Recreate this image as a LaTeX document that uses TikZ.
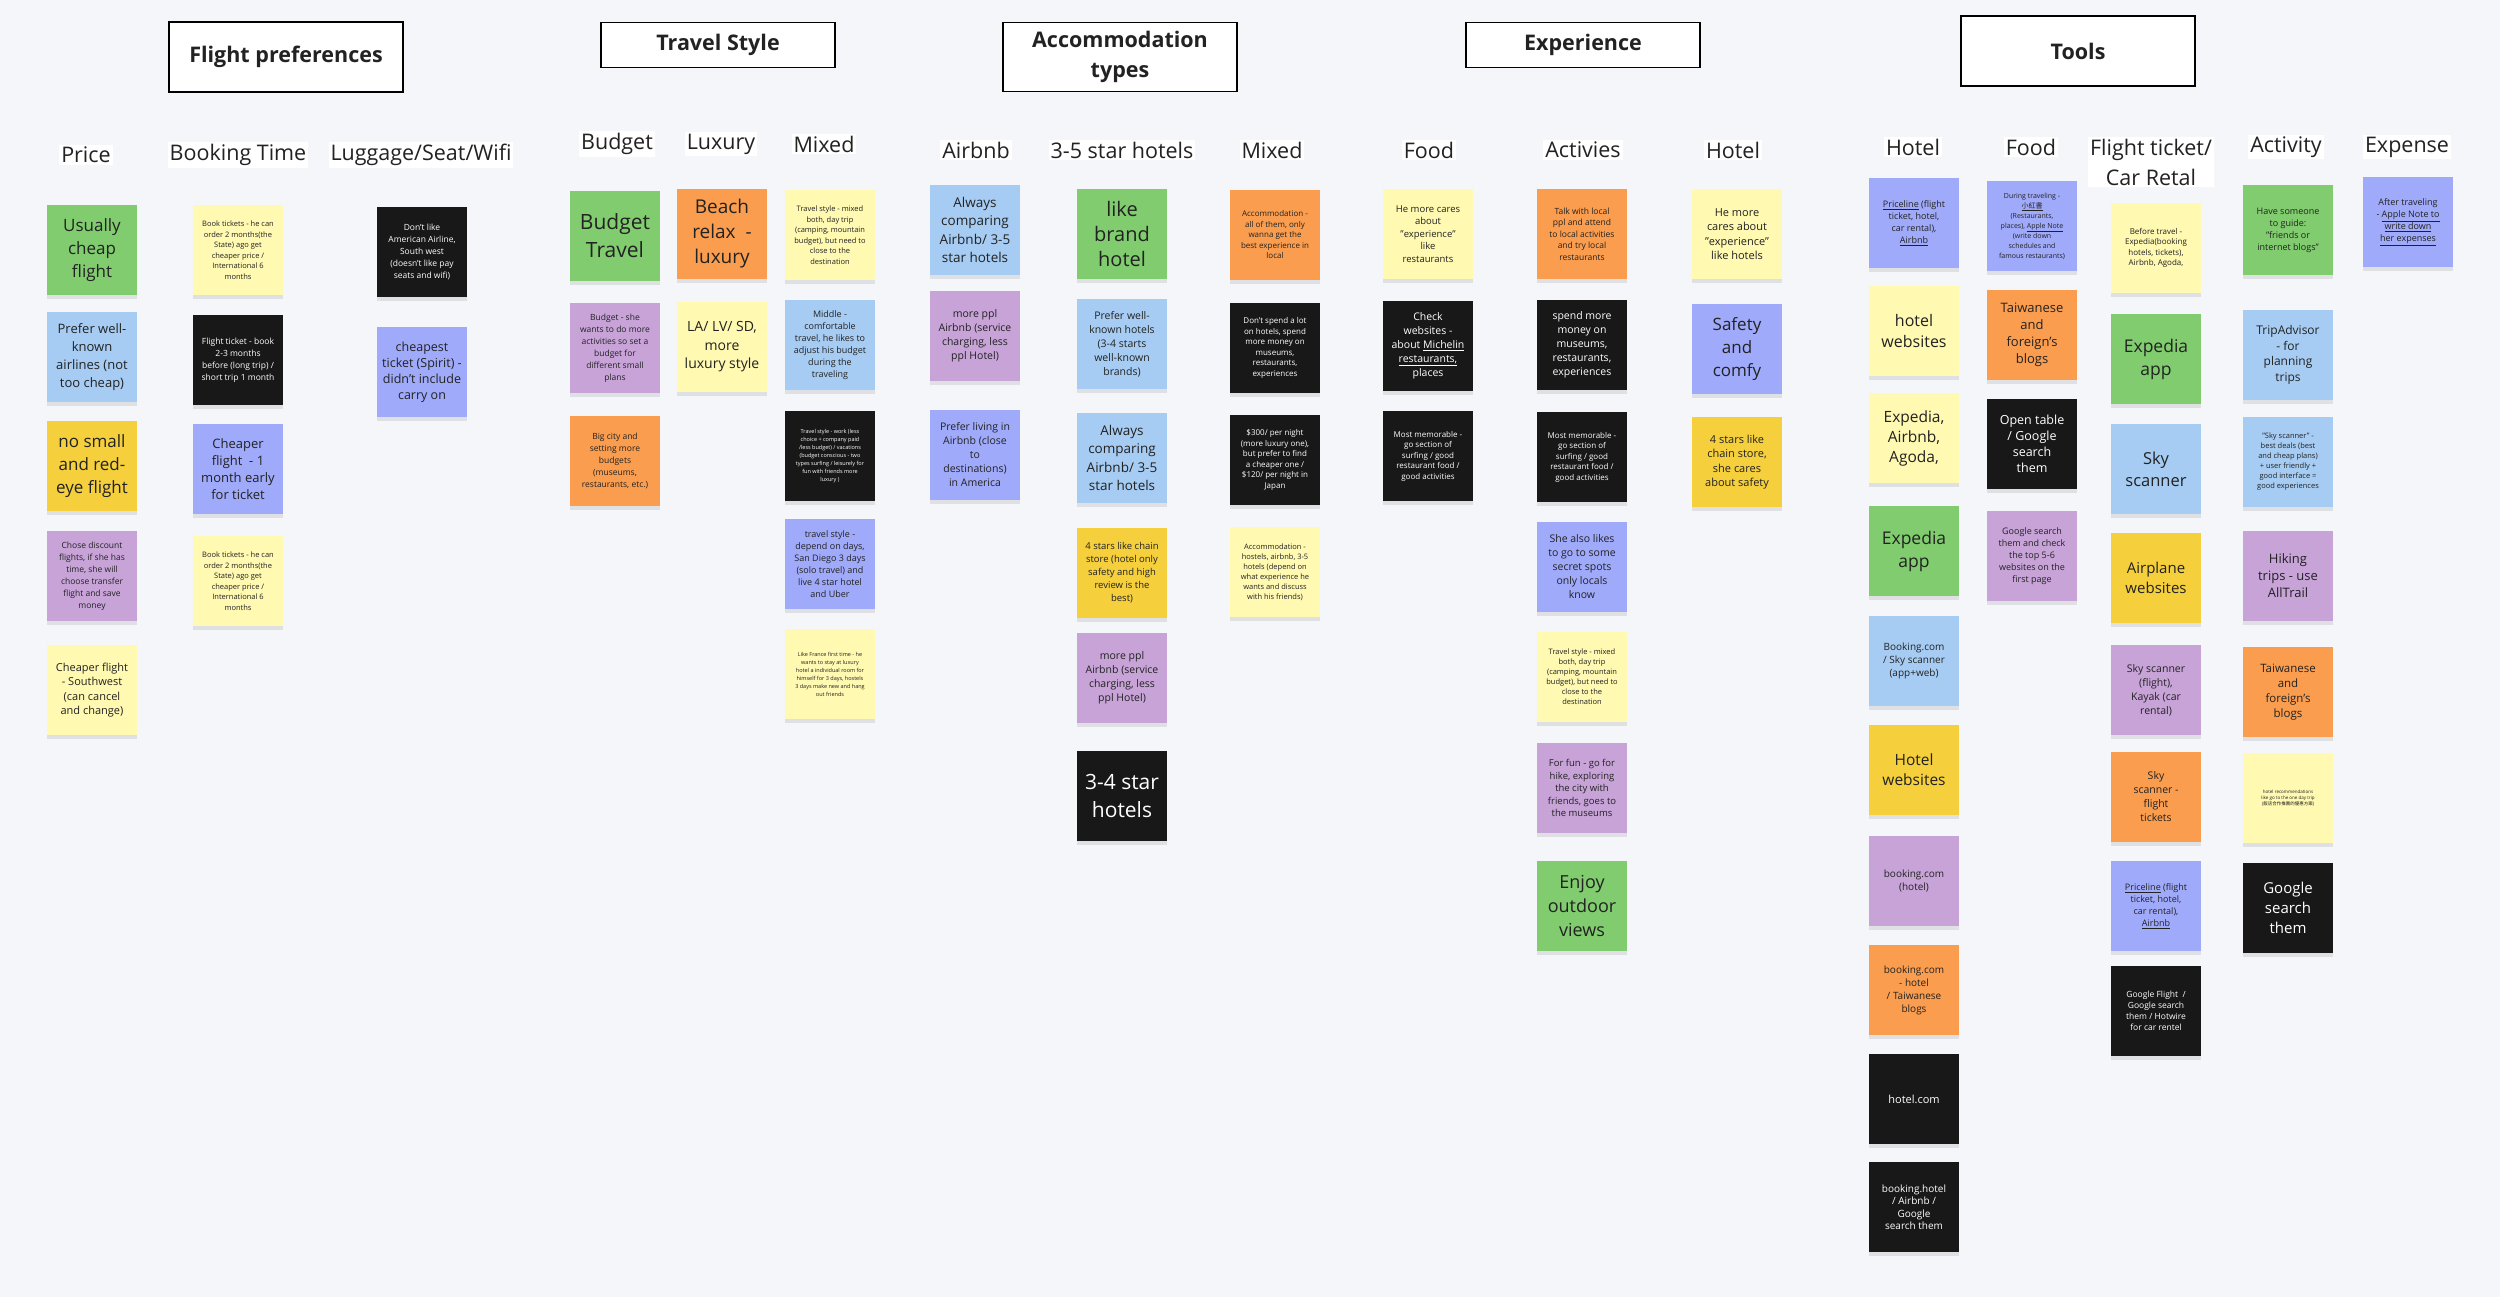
\documentclass[tikz,border=0pt]{standalone}
\usepackage{fontspec}
\setmainfont{Open Sans}
\newfontfamily\cjk{Noto Sans CJK TC}
\usetikzlibrary{shadows}

\definecolor{canvas}{RGB}{245,246,249}
\definecolor{ink}{RGB}{34,34,34}
\definecolor{stkgreen}{RGB}{128,204,110}
\definecolor{stkblue}{RGB}{166,204,243}
\definecolor{stkyellow}{RGB}{245,207,60}
\definecolor{stkpale}{RGB}{255,249,177}
\definecolor{stkpurple}{RGB}{199,163,216}
\definecolor{stkviolet}{RGB}{160,170,250}
\definecolor{stkorange}{RGB}{250,157,78}
\definecolor{stkblack}{RGB}{24,24,24}

\newcommand{\nfs}[2]{\fontsize{#1}{#2}\selectfont}

\tikzset{
	note/.style={minimum width=90pt, minimum height=90pt, inner sep=1pt, align=center, text=ink,
		drop shadow={shadow xshift=0pt, shadow yshift=-4pt, opacity=.18}},
	ngreen/.style={note, fill=stkgreen},
	nblue/.style={note, fill=stkblue},
	nyellow/.style={note, fill=stkyellow},
	npale/.style={note, fill=stkpale},
	npurple/.style={note, fill=stkpurple},
	nviolet/.style={note, fill=stkviolet},
	norange/.style={note, fill=stkorange},
	nblack/.style={note, fill=stkblack, text=white},
	colhead/.style={fill=white, inner sep=2pt, align=center, text=ink, font=\nfs{21.5}{30}},
	grouphead/.style={draw=black, line width=1.6pt, fill=white, minimum width=234pt, align=center,
		text=ink, font=\bfseries\nfs{21.5}{30}}
}

\begin{document}
\begin{tikzpicture}[x=1pt,y=-1pt]
			\fill[canvas] (0,0) rectangle (2500,1297);
			\useasboundingbox (0,0) rectangle (2500,1297);

			% group headers
			\node[grouphead, minimum height=70pt] (hFlight) at (286,57) {Flight preferences};
			\node[grouphead, minimum height=45pt] (hStyle) at (718,45) {Travel Style};
			\node[grouphead, minimum height=69pt] (hAccom) at (1120,57) {Accommodation\\types};
			\node[grouphead, minimum height=45pt] (hExp) at (1583,45) {Experience};
			\node[grouphead, minimum height=70pt] (hTools) at (2078,51) {Tools};

			% column titles
			\node[colhead] (lPrice) at (86,155) {Price};
			\node[colhead] (lBooking) at (238,155) {Booking Time};
			\node[colhead] (lLuggage) at (421,155) {Luggage/Seat/Wifi};
			\node[colhead] (lBudget) at (617,144) {Budget};
			\node[colhead] (lLuxury) at (721,144) {Luxury};
			\node[colhead] (lMixed) at (824,144) {Mixed};
			\node[colhead] (lAirbnb) at (976,150) {Airbnb};
			\node[colhead] (lStar) at (1122,150) {3-5 star hotels};
			\node[colhead] (lMixAcc) at (1272,150) {Mixed};
			\node[colhead] (lFood) at (1429,150) {Food};
			\node[colhead] (lAct) at (1583,150) {Activies};
			\node[colhead] (lHotel) at (1733,150) {Hotel};
			\node[colhead] (lToolHotel) at (1913,147) {Hotel};
			\node[colhead] (lToolFood) at (2031,147) {Food};
			\node[colhead] (lToolFlight) at (2151,162) {Flight ticket/\\Car Retal};
			\node[colhead] (lToolAct) at (2286,147) {Activity};
			\node[colhead] (lToolExp) at (2407,147) {Expense};

			% Price
			\node[ngreen, font=\nfs{17}{23}] (p1) at (92,250) {Usually\\cheap\\flight};
			\node[nblue, font=\nfs{13}{18}] (p2) at (92,357) {Prefer well-\\known\\airlines (not\\too cheap)};
			\node[nyellow, font=\nfs{17}{23}] (p3) at (92,466) {no small\\and red-\\eye flight};
			\node[npurple, font=\nfs{8.5}{12}] (p4) at (92,576) {Chose discount\\flights, if she has\\time, she will\\choose transfer\\flight and save\\money};
			\node[npale, font=\nfs{11}{14.5}] (p5) at (92,690) {Cheaper flight\\- Southwest\\(can cancel\\and change)};

			% Booking Time
			\node[npale, font=\nfs{7.5}{10.5}] (bt1) at (238,250) {Book tickets - he can\\order 2 months(the\\State) ago get\\cheaper price /\\International 6\\months};
			\node[nblack, font=\nfs{8.5}{12}] (bt2) at (238,360) {Flight ticket - book\\2-3 months\\before (long trip) /\\short trip 1 month};
			\node[nviolet, font=\nfs{13}{17}] (bt3) at (238,469) {Cheaper\\flight\ \ - 1\\month early\\for ticket};
			\node[npale, font=\nfs{7.5}{10.5}] (bt4) at (238,581) {Book tickets - he can\\order 2 months(the\\State) ago get\\cheaper price /\\International 6\\months};

			% Luggage/Seat/Wifi
			\node[nblack, font=\nfs{8.5}{12}] (lg1) at (422,252) {Don't like\\American Airline,\\South west\\(doesn't like pay\\seats and wifi)};
			\node[nviolet, font=\nfs{12.5}{16}] (lg2) at (422,372) {cheapest\\ticket (Spirit) -\\didn't include\\carry on};

			% Budget
			\node[ngreen, font=\nfs{21}{28}] (bu1) at (615,236) {Budget\\Travel};
			\node[npurple, font=\nfs{8.5}{12}] (bu2) at (615,348) {Budget - she\\wants to do more\\activities so set a\\budget for\\different small\\plans};
			\node[norange, font=\nfs{8.5}{12}] (bu3) at (615,461) {Big city and\\setting more\\budgets\\(museums,\\restaurants, etc.)};

			% Luxury
			\node[norange, font=\nfs{19}{25}] (lx1) at (722,234) {Beach\\relax\ \ -\\luxury};
			\node[npale, font=\nfs{14}{18.5}] (lx2) at (722,347) {LA/ LV/ SD,\\more\\luxury style};

			% Mixed
			\node[npale, font=\nfs{7.5}{10.5}] (mx1) at (830,235) {Travel style - mixed\\both, day trip\\(camping, mountain\\budget), but need to\\close to the\\destination};
			\node[nblue, font=\nfs{9}{12}] (mx2) at (830,345) {Middle -\\comfortable\\travel, he likes to\\adjust his budget\\during the\\traveling};
			\node[nblack, font=\nfs{5.5}{8}] (mx3) at (830,456) {Travel style - work (less\\choice + company paid\\/less budget) / vacations\\(budget conscious - two\\types surfing / leisurely for\\fun with friends more\\luxury )};
			\node[nviolet, font=\nfs{9}{12}] (mx4) at (830,564) {travel style -\\depend on days,\\San Diego 3 days\\(solo travel) and\\live 4 star hotel\\and Uber};
			\node[npale, font=\nfs{5.5}{8}] (mx5) at (830,674) {Like France first time - he\\wants to stay at luxury\\hotel a individual room for\\himself for 3 days, hostels\\3 days make new and hang\\out friends};

			% Airbnb
			\node[nblue, font=\nfs{13.5}{18.5}] (ab1) at (975,230) {Always\\comparing\\Airbnb/ 3-5\\star hotels};
			\node[npurple, font=\nfs{10.5}{14}] (ab2) at (975,336) {more ppl\\Airbnb (service\\charging, less\\ppl Hotel)};
			\node[nviolet, font=\nfs{10.5}{14}] (ab3) at (975,455) {Prefer living in\\Airbnb (close\\to\\destinations)\\in America};

			% 3-5 star hotels
			\node[ngreen, font=\nfs{20}{25}] (st1) at (1122,234) {like\\brand\\hotel};
			\node[nblue, font=\nfs{10.5}{14}] (st2) at (1122,344) {Prefer well-\\known hotels\\(3-4 starts\\well-known\\brands)};
			\node[nblue, font=\nfs{13.5}{18.5}] (st3) at (1122,458) {Always\\comparing\\Airbnb/ 3-5\\star hotels};
			\node[nyellow, font=\nfs{9.5}{13}] (st4) at (1122,573) {4 stars like chain\\store (hotel only\\safety and high\\review is the\\best)};
			\node[npurple, font=\nfs{10.5}{14}] (st5) at (1122,678) {more ppl\\Airbnb (service\\charging, less\\ppl Hotel)};
			\node[nblack, font=\nfs{21}{28}] (st6) at (1122,796) {3-4 star\\hotels};

			% Mixed (accommodation)
			\node[norange, font=\nfs{8}{10.5}] (ma1) at (1275,235) {Accommodation -\\all of them, only\\wanna get the\\best experience in\\local};
			\node[nblack, font=\nfs{8}{10.5}] (ma2) at (1275,348) {Don't spend a lot\\on hotels, spend\\more money on\\museums,\\restaurants,\\experiences};
			\node[nblack, font=\nfs{8}{10.5}] (ma3) at (1275,460) {\$300/ per night\\(more luxury one),\\but prefer to find\\a cheaper one /\\\$120/ per night in\\Japan};
			\node[npale, font=\nfs{7.5}{10}] (ma4) at (1275,572) {Accommodation -\\hostels, airbnb, 3-5\\hotels (depend on\\what experience he\\wants and discuss\\with his friends)};

			% Food
			\node[npale, font=\nfs{9.5}{12.5}] (fd1) at (1428,234) {He more cares\\about\\"experience"\\like\\restaurants};
			\node[nblack, font=\nfs{10.5}{14}] (fd2) at (1428,346) {Check\\websites -\\about \underline{Michelin}\\\underline{restaurants,}\\places};
			\node[nblack, font=\nfs{8}{10.5}] (fd3) at (1428,456) {Most memorable -\\go section of\\surfing / good\\restaurant food /\\good activities};

			% Activies
			\node[norange, font=\nfs{8.5}{11.5}] (ac1) at (1582,234) {Talk with local\\ppl and attend\\to local activities\\and try local\\restaurants};
			\node[nblack, font=\nfs{10.5}{14}] (ac2) at (1582,345) {spend more\\money on\\museums,\\restaurants,\\experiences};
			\node[nblack, font=\nfs{8}{10.5}] (ac3) at (1582,457) {Most memorable -\\go section of\\surfing / good\\restaurant food /\\good activities};
			\node[nviolet, font=\nfs{10.5}{14}] (ac4) at (1582,567) {She also likes\\to go to some\\secret spots\\only locals\\know};
			\node[npale, font=\nfs{7.5}{10}] (ac5) at (1582,677) {Travel style - mixed\\both, day trip\\(camping, mountain\\budget), but need to\\close to the\\destination};
			\node[npurple, font=\nfs{9.5}{12.5}] (ac6) at (1582,788) {For fun - go for\\hike, exploring\\the city with\\friends, goes to\\the museums};
			\node[ngreen, font=\nfs{18}{24}] (ac7) at (1582,906) {Enjoy\\outdoor\\views};

			% Hotel (experience)
			\node[npale, font=\nfs{11}{14.5}] (he1) at (1737,234) {He more\\cares about\\"experience"\\like hotels};
			\node[nviolet, font=\nfs{17}{23}] (he2) at (1737,349) {Safety\\and\\comfy};
			\node[nyellow, font=\nfs{11}{14.5}] (he3) at (1737,462) {4 stars like\\chain store,\\she cares\\about safety};

			% Tools - Hotel
			\node[nviolet, font=\nfs{9}{12}] (th1) at (1914,223) {\underline{Priceline} (flight\\ticket, hotel,\\car rental),\\\underline{Airbnb}};
			\node[npale, font=\nfs{16}{21}] (th2) at (1914,331) {hotel\\websites};
			\node[npale, font=\nfs{15.5}{20}] (th3) at (1914,438) {Expedia,\\Airbnb,\\Agoda,};
			\node[ngreen, font=\nfs{17.5}{23}] (th4) at (1914,551) {Expedia\\app};
			\node[nblue, font=\nfs{10}{13}] (th5) at (1914,661) {Booking.com\\/ Sky scanner\\(app+web)};
			\node[nyellow, font=\nfs{15.5}{20}] (th6) at (1914,770) {Hotel\\websites};
			\node[npurple, font=\nfs{10}{13}] (th7) at (1914,881) {booking.com\\(hotel)};
			\node[norange, font=\nfs{10}{13}] (th8) at (1914,990) {booking.com\\- hotel\\/ Taiwanese\\blogs};
			\node[nblack, font=\nfs{11}{14}] (th9) at (1914,1099) {hotel.com};
			\node[nblack, font=\nfs{10}{12.5}] (th10) at (1914,1207) {booking.hotel\\/ Airbnb /\\Google\\search them};

			% Tools - Food
			\node[nviolet, font=\nfs{7}{10}] (tf1) at (2032,226) {During traveling -\\\underline{{\cjk 小紅書}}\\(Restaurants,\\places), \underline{Apple Note}\\(write down\\schedules and\\famous restaurants)};
			\node[norange, font=\nfs{13}{17}] (tf2) at (2032,335) {Taiwanese\\and\\foreign's\\blogs};
			\node[nblack, font=\nfs{12.5}{16}] (tf3) at (2032,444) {Open table\\/ Google\\search\\them};
			\node[npurple, font=\nfs{9}{12}] (tf4) at (2032,556) {Google search\\them and check\\the top 5-6\\websites on the\\first page};

			% Tools - Flight ticket/Car Retal
			\node[npale, font=\nfs{8}{10.5}] (tl1) at (2156,248) {Before travel -\\Expedia(booking\\hotels, tickets),\\Airbnb, Agoda,};
			\node[ngreen, font=\nfs{17.5}{23}] (tl2) at (2156,359) {Expedia\\app};
			\node[nblue, font=\nfs{16.5}{22}] (tl3) at (2156,469) {Sky\\scanner};
			\node[nyellow, font=\nfs{15}{20}] (tl4) at (2156,578) {Airplane\\websites};
			\node[npurple, font=\nfs{10.5}{14}] (tl5) at (2156,690) {Sky scanner\\(flight),\\Kayak (car\\rental)};
			\node[norange, font=\nfs{10.5}{14}] (tl6) at (2156,797) {Sky\\scanner -\\flight\\tickets};
			\node[nviolet, font=\nfs{9}{12}] (tl7) at (2156,906) {\underline{Priceline} (flight\\ticket, hotel,\\car rental),\\\underline{Airbnb}};
			\node[nblack, font=\nfs{8.5}{11}] (tl8) at (2156,1011) {Google Flight\ \ /\\Google search\\them / Hotwire\\for car rentel};

			% Tools - Activity
			\node[ngreen, font=\nfs{9}{12}] (ta1) at (2288,230) {Have someone\\to guide:\\"friends or\\internet blogs"};
			\node[nblue, font=\nfs{12}{15.5}] (ta2) at (2288,355) {TripAdvisor\\- for\\planning\\trips};
			\node[nblue, font=\nfs{7.5}{10}] (ta3) at (2288,462) {"Sky scanner" -\\best deals (best\\and cheap plans)\\+ user friendly +\\good interface =\\good experiences};
			\node[npurple, font=\nfs{13}{17}] (ta4) at (2288,576) {Hiking\\trips - use\\AllTrail};
			\node[norange, font=\nfs{11.5}{15}] (ta5) at (2288,692) {Taiwanese\\and\\foreign's\\blogs};
			\node[npale, font=\nfs{4.5}{6}] (ta6) at (2288,798) {hotel recommendations\\like go to the one day trip\\({\cjk 飯店合作推薦的優惠方案})};
			\node[nblack, font=\nfs{15}{20}] (ta7) at (2288,908) {Google\\search\\them};

			% Tools - Expense
			\node[nviolet, font=\nfs{9}{12}] (te1) at (2408,222) {After traveling\\- \underline{Apple Note to}\\\underline{write down}\\\underline{her expenses}};
\end{tikzpicture}
\end{document}
